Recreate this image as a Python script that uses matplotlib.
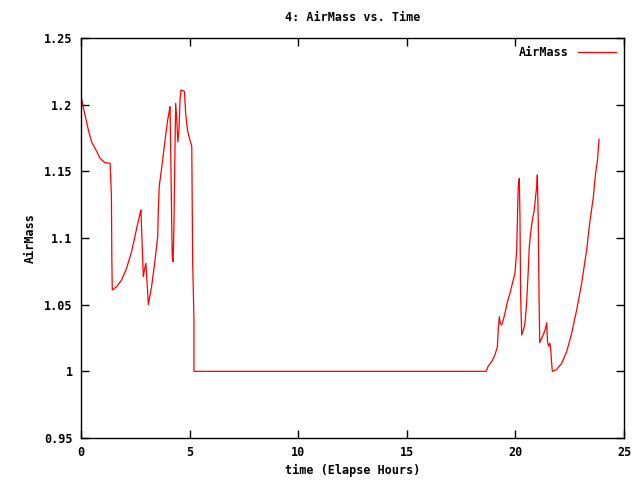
import numpy as np
import matplotlib.pyplot as plt

# elapsed hours and airmass
hours = [0.0, 0.1, 0.34, 0.49, 0.72, 0.87, 1.1, 1.34, 1.4, 1.42, 1.44,
         1.64, 1.87, 2.1, 2.33, 2.56, 2.72, 2.76, 2.84, 2.87, 2.93, 2.99, 3.03, 3.07, 3.1,
         3.25, 3.4, 3.53, 3.56, 3.6, 3.76, 3.87, 3.99, 4.06, 4.1,
         4.17, 4.2, 4.24, 4.28, 4.33, 4.36, 4.41, 4.46, 4.51, 4.56, 4.6, 4.76, 4.82, 4.9, 4.99, 5.1,
         5.14, 5.2, 5.2,
         18.65, 18.75, 18.91, 19.06, 19.17, 19.21, 19.26, 19.3, 19.37, 19.44, 19.52, 19.63, 19.75,
         19.86, 19.98, 20.06, 20.1, 20.13, 20.18, 20.21, 20.24, 20.29, 20.37, 20.44, 20.52, 20.6,
         20.64, 20.7, 20.78, 20.86, 20.93, 20.98, 21.01, 21.05, 21.09, 21.12, 21.21, 21.31, 21.39,
         21.44, 21.48, 21.53, 21.59, 21.62, 21.67, 21.7,
         21.9, 22.13, 22.36, 22.59, 22.82, 23.05, 23.28, 23.43, 23.59, 23.69, 23.78, 23.85]
airmass = [1.2065, 1.1985, 1.181, 1.172, 1.165, 1.16, 1.1565, 1.156, 1.132, 1.0835, 1.061,
           1.0635, 1.0685, 1.0773, 1.0898, 1.107, 1.1185, 1.121, 1.0835, 1.071, 1.077, 1.081, 1.0695, 1.0585, 1.05,
           1.0635, 1.0823, 1.101, 1.121, 1.1385, 1.1585, 1.1735, 1.1885, 1.1948, 1.1985,
           1.1185, 1.086, 1.0823, 1.111, 1.171, 1.201, 1.1885, 1.172, 1.181, 1.2035, 1.211, 1.21, 1.1935, 1.181, 1.175, 1.1685,
           1.0835, 1.0385, 1.0,
           1.0, 1.004, 1.0073, 1.0123, 1.0185, 1.031, 1.041, 1.036, 1.0348, 1.0385, 1.0435, 1.052, 1.0585,
           1.066, 1.0735, 1.091, 1.1185, 1.1385, 1.1448, 1.116, 1.0573, 1.0273, 1.031, 1.036, 1.0523, 1.0785,
           1.0935, 1.1035, 1.1135, 1.12, 1.131, 1.1385, 1.1473, 1.116, 1.0535, 1.0215, 1.0248, 1.0285, 1.0323,
           1.0365, 1.0223, 1.019, 1.021, 1.0173, 1.006, 1.0,
           1.0013, 1.006, 1.0148, 1.0285, 1.046, 1.066, 1.091, 1.1123, 1.131, 1.1485, 1.1585, 1.174]

xticks = [0, 5, 10, 15, 20, 25]
yticks = [0.95, 1.0, 1.05, 1.1, 1.15, 1.2, 1.25]
ylabels = ['0.95', '1', '1.05', '1.1', '1.15', '1.2', '1.25']

plt.rcParams['font.family'] = 'DejaVu Sans Mono'
plt.rcParams['font.size'] = 8.5
plt.rcParams['font.weight'] = 'bold'
plt.rcParams['axes.labelweight'] = 'bold'

fig = plt.figure(figsize=(6.4, 4.8), dpi=100)
ax = fig.add_axes([81/640, 1-438/480, 543/640, 400/480])
ax.plot(hours, airmass, color='red', lw=0.9, label='AirMass')
ax.set_xlim(0, 25)
ax.set_ylim(0.95, 1.25)
ax.set_xticks(xticks)
ax.set_yticks(yticks)
ax.set_yticklabels(ylabels)
ax.tick_params(direction='in', top=True, right=True, length=6, width=1, pad=6)
for s in ax.spines.values():
    s.set_linewidth(1)
ax.set_title('4: AirMass vs. Time', fontsize=8.5, fontweight='bold', pad=12)
ax.set_xlabel('time (Elapse Hours)', labelpad=3)
ax.set_ylabel('AirMass', labelpad=5)
leg = ax.legend(loc='upper right', frameon=False, markerfirst=False, handlelength=3.2,
                borderaxespad=0.3, handletextpad=0.8)
fig.savefig('out.png', dpi=100)
